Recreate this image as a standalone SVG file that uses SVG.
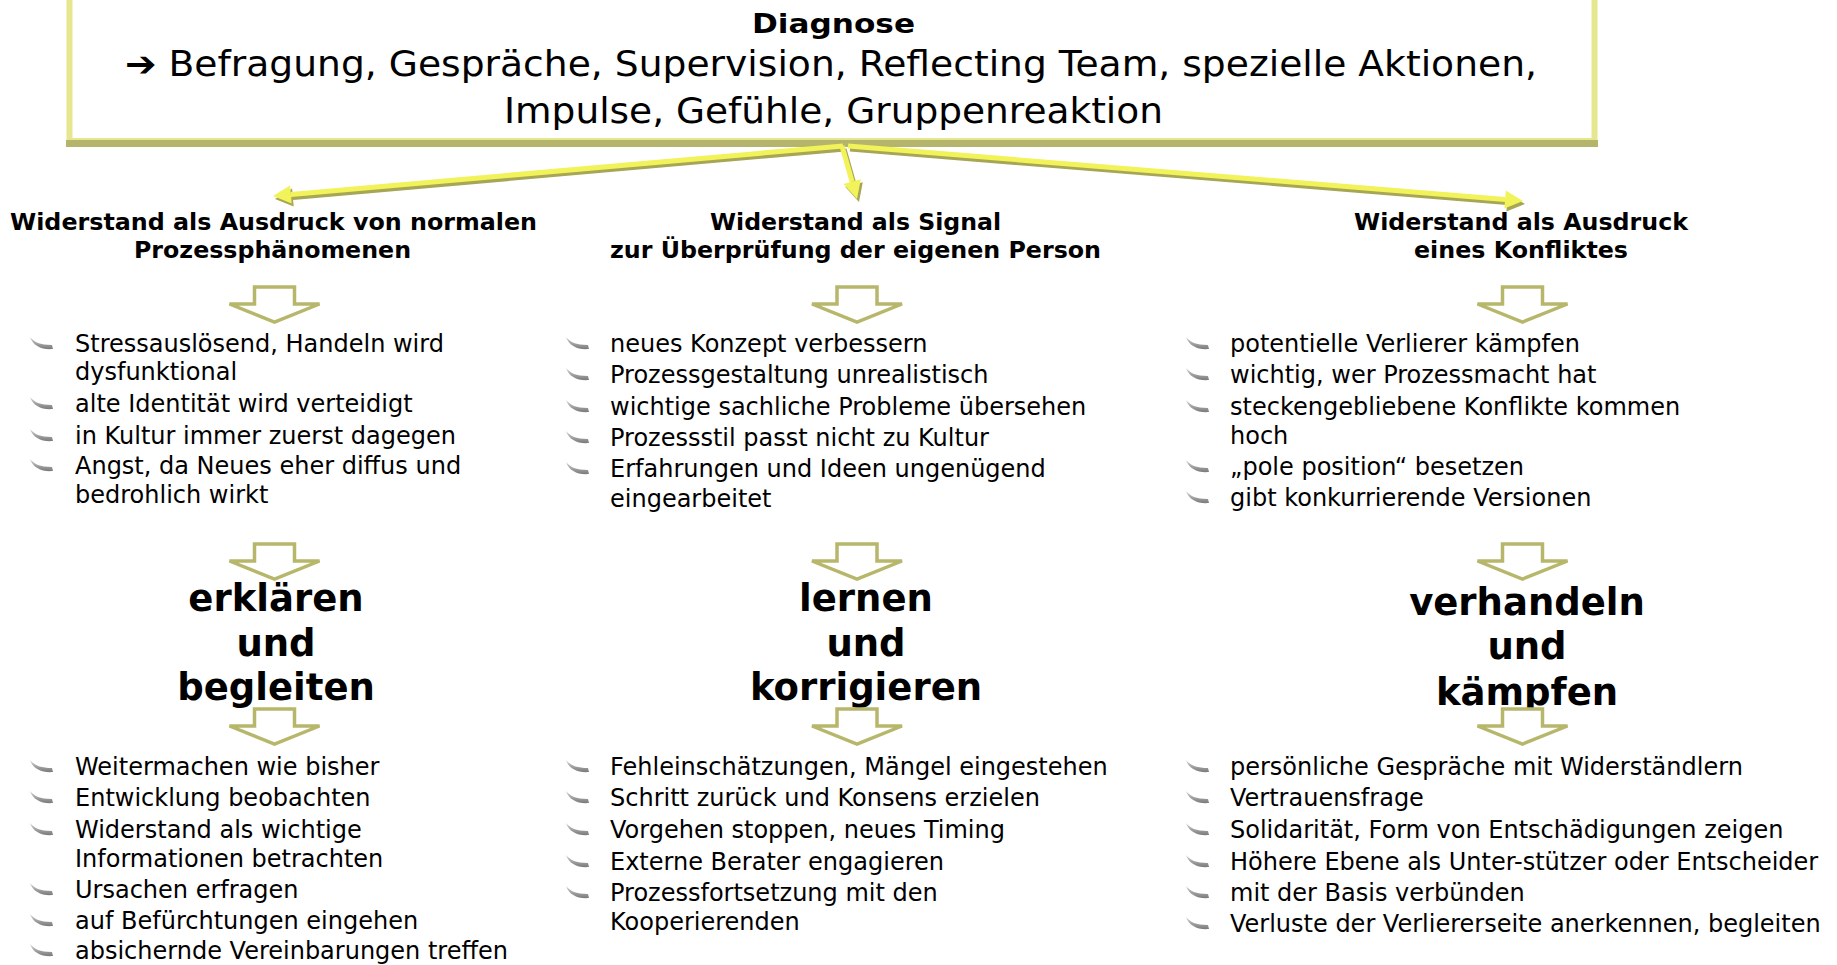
<svg xmlns="http://www.w3.org/2000/svg" xmlns:xlink="http://www.w3.org/1999/xlink" width="1837" height="965" viewBox="0 0 1837 965">
<style>
text{font-family:"DejaVu Sans",Verdana,sans-serif;fill:#000}
.top{font-size:35px}
.dg{font-size:26px;font-weight:bold}
.h{font-size:23px;font-weight:bold}
.b{font-size:24px}
.big{font-size:37px;font-weight:bold;text-anchor:middle}
.ha{fill:#fff;stroke:#b7b76c;stroke-width:3.5;stroke-linejoin:miter}
.cl{stroke:#f2f25a;stroke-width:5;fill:none}
.cs{stroke:#a6a655;stroke-width:5;fill:none}
.ch{fill:#f2f25a}
.chs{fill:#a6a655}
</style>
<defs>
<linearGradient id="bg" x1="0" y1="0" x2="0" y2="1">
<stop offset="0" stop-color="#d0d0d0"/>
<stop offset="1" stop-color="#7a7a7a"/>
</linearGradient>
<path id="bl" d="M0,0 C4,5 10,8 22,8 L23,12 C12,13 3,9 0,0 Z" fill="url(#bg)"/>
<path id="ha" d="M-20,0 L20,0 L20,17 L45,17 L0,35 L-45,17 L-20,17 Z"/>
</defs>

<g id="diagnose">
<rect x="69.5" y="-3" width="1525" height="144" fill="#fff" stroke="#e6e68e" stroke-width="6"/>
<rect x="66" y="140" width="1532" height="7" fill="#b4b46c"/>
<text class="dg" x="752" y="33" textLength="163" lengthAdjust="spacingAndGlyphs">Diagnose</text>
<text class="top" x="125" y="76" textLength="1412" lengthAdjust="spacingAndGlyphs">➔ Befragung, Gespräche, Supervision, Reflecting Team, spezielle Aktionen,</text>
<text class="top" x="504" y="123" textLength="659" lengthAdjust="spacingAndGlyphs">Impulse, Gefühle, Gruppenreaktion</text>
</g>

<g id="connectors">
<g transform="translate(2,3)">
<line class="cs" x1="843" y1="146" x2="290.9" y2="194.4"/>
<polygon class="chs" points="273,196 290.1,185.4 291.7,203.4"/>
<line class="cs" x1="842" y1="146" x2="852.1" y2="181.7"/>
<polygon class="chs" points="857,199 843.4,184.1 860.8,179.2"/>
<line class="cs" x1="848" y1="146" x2="1505.1" y2="199.5"/>
<polygon class="chs" points="1523,201 1504.4,208.5 1505.8,190.5"/>
</g>
<line class="cl" x1="843" y1="146" x2="290.9" y2="194.4"/>
<polygon class="ch" points="273,196 290.1,185.4 291.7,203.4"/>
<line class="cl" x1="842" y1="146" x2="852.1" y2="181.7"/>
<polygon class="ch" points="857,199 843.4,184.1 860.8,179.2"/>
<line class="cl" x1="848" y1="146" x2="1505.1" y2="199.5"/>
<polygon class="ch" points="1523,201 1504.4,208.5 1505.8,190.5"/>
</g>

<g id="col-left">
<text class="h" x="10" y="230" textLength="527" lengthAdjust="spacingAndGlyphs">Widerstand als Ausdruck von normalen</text>
<text class="h" x="134" y="258" textLength="277" lengthAdjust="spacingAndGlyphs">Prozessphänomenen</text>
<use href="#ha" class="ha" x="274.5" y="287"/>
<use href="#bl" x="30" y="337"/>
<text class="b" x="75" y="352">Stressauslösend, Handeln wird</text>
<text class="b" x="75" y="380">dysfunktional</text>
<use href="#bl" x="30" y="397"/>
<text class="b" x="75" y="412">alte Identität wird verteidigt</text>
<use href="#bl" x="30" y="429"/>
<text class="b" x="75" y="444">in Kultur immer zuerst dagegen</text>
<use href="#bl" x="30" y="459"/>
<text class="b" x="75" y="474">Angst, da Neues eher diffus und</text>
<text class="b" x="75" y="503">bedrohlich wirkt</text>
<use href="#ha" class="ha" x="274.5" y="544"/>
<text class="big" x="276" y="611">erklären</text>
<text class="big" x="276" y="656">und</text>
<text class="big" x="276" y="700">begleiten</text>
<use href="#ha" class="ha" x="274.5" y="709"/>
<use href="#bl" x="30" y="760"/>
<text class="b" x="75" y="775">Weitermachen wie bisher</text>
<use href="#bl" x="30" y="791"/>
<text class="b" x="75" y="806">Entwicklung beobachten</text>
<use href="#bl" x="30" y="823"/>
<text class="b" x="75" y="838">Widerstand als wichtige</text>
<text class="b" x="75" y="867">Informationen betrachten</text>
<use href="#bl" x="30" y="883"/>
<text class="b" x="75" y="898">Ursachen erfragen</text>
<use href="#bl" x="30" y="914"/>
<text class="b" x="75" y="929">auf Befürchtungen eingehen</text>
<use href="#bl" x="30" y="944"/>
<text class="b" x="75" y="959">absichernde Vereinbarungen treffen</text>
</g>

<g id="col-middle">
<text class="h" x="710" y="230" textLength="291" lengthAdjust="spacingAndGlyphs">Widerstand als Signal</text>
<text class="h" x="610" y="258" textLength="491" lengthAdjust="spacingAndGlyphs">zur Überprüfung der eigenen Person</text>
<use href="#ha" class="ha" x="857" y="287"/>
<use href="#bl" x="566" y="337"/>
<text class="b" x="610" y="352">neues Konzept verbessern</text>
<use href="#bl" x="566" y="368"/>
<text class="b" x="610" y="383">Prozessgestaltung unrealistisch</text>
<use href="#bl" x="566" y="400"/>
<text class="b" x="610" y="415">wichtige sachliche Probleme übersehen</text>
<use href="#bl" x="566" y="431"/>
<text class="b" x="610" y="446">Prozessstil passt nicht zu Kultur</text>
<use href="#bl" x="566" y="462"/>
<text class="b" x="610" y="477">Erfahrungen und Ideen ungenügend</text>
<text class="b" x="610" y="507">eingearbeitet</text>
<use href="#ha" class="ha" x="857" y="544"/>
<text class="big" x="866" y="611">lernen</text>
<text class="big" x="866" y="656">und</text>
<text class="big" x="866" y="700">korrigieren</text>
<use href="#ha" class="ha" x="857" y="709"/>
<use href="#bl" x="566" y="760"/>
<text class="b" x="610" y="775">Fehleinschätzungen, Mängel eingestehen</text>
<use href="#bl" x="566" y="791"/>
<text class="b" x="610" y="806">Schritt zurück und Konsens erzielen</text>
<use href="#bl" x="566" y="823"/>
<text class="b" x="610" y="838">Vorgehen stoppen, neues Timing</text>
<use href="#bl" x="566" y="855"/>
<text class="b" x="610" y="870">Externe Berater engagieren</text>
<use href="#bl" x="566" y="886"/>
<text class="b" x="610" y="901">Prozessfortsetzung mit den</text>
<text class="b" x="610" y="930">Kooperierenden</text>
</g>

<g id="col-right">
<text class="h" x="1354" y="230" textLength="334" lengthAdjust="spacingAndGlyphs">Widerstand als Ausdruck</text>
<text class="h" x="1414" y="258" textLength="214" lengthAdjust="spacingAndGlyphs">eines Konfliktes</text>
<use href="#ha" class="ha" x="1522.5" y="287"/>
<use href="#bl" x="1186" y="337"/>
<text class="b" x="1230" y="352">potentielle Verlierer kämpfen</text>
<use href="#bl" x="1186" y="368"/>
<text class="b" x="1230" y="383">wichtig, wer Prozessmacht hat</text>
<use href="#bl" x="1186" y="400"/>
<text class="b" x="1230" y="415">steckengebliebene Konflikte kommen</text>
<text class="b" x="1230" y="444">hoch</text>
<use href="#bl" x="1186" y="460"/>
<text class="b" x="1230" y="475">„pole position“ besetzen</text>
<use href="#bl" x="1186" y="491"/>
<text class="b" x="1230" y="506">gibt konkurrierende Versionen</text>
<use href="#ha" class="ha" x="1522.5" y="544"/>
<text class="big" x="1527" y="615">verhandeln</text>
<text class="big" x="1527" y="659">und</text>
<text class="big" x="1527" y="705">kämpfen</text>
<use href="#ha" class="ha" x="1522.5" y="709"/>
<use href="#bl" x="1186" y="760"/>
<text class="b" x="1230" y="775">persönliche Gespräche mit Widerständlern</text>
<use href="#bl" x="1186" y="791"/>
<text class="b" x="1230" y="806">Vertrauensfrage</text>
<use href="#bl" x="1186" y="823"/>
<text class="b" x="1230" y="838">Solidarität, Form von Entschädigungen zeigen</text>
<use href="#bl" x="1186" y="855"/>
<text class="b" x="1230" y="870">Höhere Ebene als Unter-stützer oder Entscheider</text>
<use href="#bl" x="1186" y="886"/>
<text class="b" x="1230" y="901">mit der Basis verbünden</text>
<use href="#bl" x="1186" y="917"/>
<text class="b" x="1230" y="932">Verluste der Verliererseite anerkennen, begleiten</text>
</g>
</svg>
